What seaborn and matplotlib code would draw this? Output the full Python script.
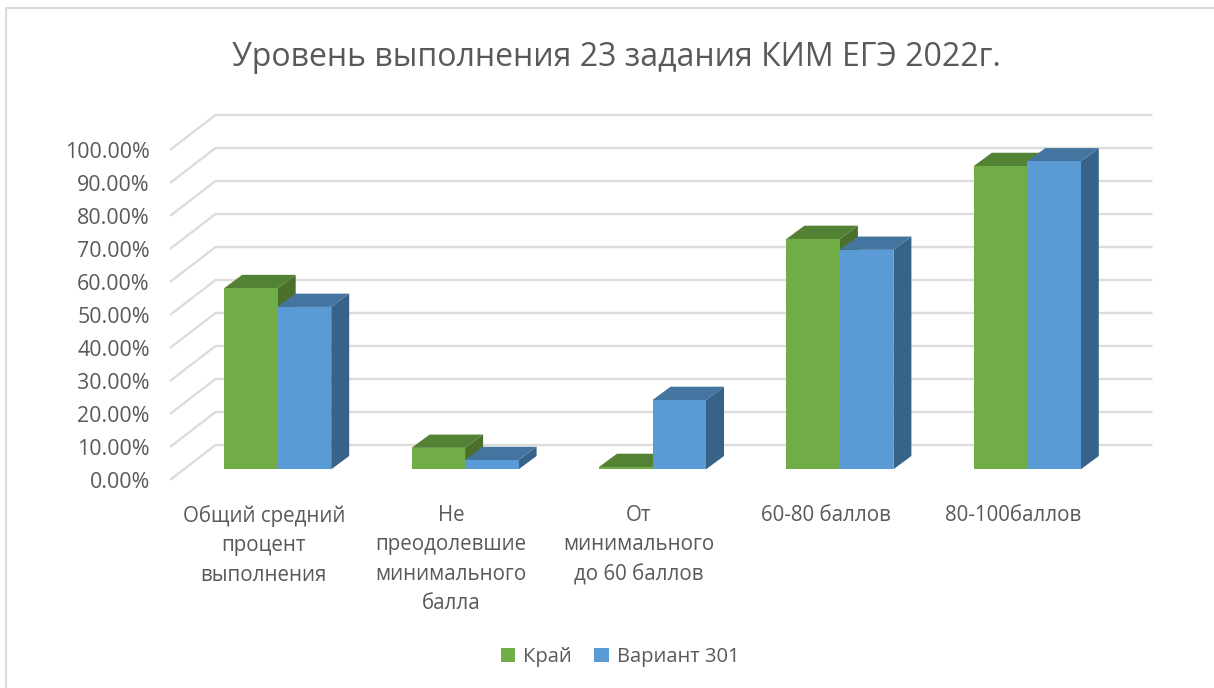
import pandas as pd
import matplotlib
matplotlib.use("Agg")
import matplotlib.pyplot as plt
from matplotlib.lines import Line2D
from matplotlib.patches import Polygon, Rectangle
import seaborn as sns

# values (percent)
categories = ["Общий средний\nпроцент\nвыполнения", "Не\nпреодолевшие\nминимального\nбалла",
              "От\nминимального\nдо 60 баллов", "60-80 баллов", "80-100баллов"]
kray = [54.9, 6.5, 0.7, 69.8, 91.9]
variant = [49.2, 2.8, 21.0, 66.5, 93.3]
ticks = [0, 10, 20, 30, 40, 50, 60, 70, 80, 90, 100]

df = pd.DataFrame({
    "cat": categories * 2,
    "val": kray + variant,
    "series": ["Край"] * 5 + ["Вариант 301"] * 5,
})

sns.set_theme(style="white")
plt.rcParams["font.family"] = ["Open Sans", "DejaVu Sans"]

W, H = 1214, 688
text_col = "#595959"
front = {"Край": "#70AD47", "Вариант 301": "#5B9BD5"}
top_col = ["#548235", "#4474A0"]
side_col = ["#4A702C", "#386389"]

# pixel scale of the chart
px_x = 187.4   # px per category
px_y = 3.3     # px per percent


def box(left, top, width, height):
    return [left / W, 1 - (top + height) / H, width / W, height / H]


fig = plt.figure(figsize=(W / 100, H / 100), dpi=100)
# only the top and left edges of the chart frame are in the crop
fig.add_artist(Line2D([6 / W, 6 / W, 1], [0, 1 - 8 / H, 1 - 8 / H], transform=fig.transFigure,
                      color="#dcdcdc", lw=1.6))

# front plane of the walls: carries the axis labels and the grid
ax_wall = fig.add_axes(box(170, 150, 5 * px_x, 330))
ax_wall.set_xlim(-0.5, 4.5)
ax_wall.set_ylim(0, 100)
ax_wall.set_xticks(range(5))
ax_wall.set_xticklabels(categories, fontsize=14.8, color=text_col, linespacing=1.53, va="top")
ax_wall.set_yticks(ticks)
ax_wall.set_yticklabels([f"{t:.2f}%" for t in ticks], fontsize=15.4, color=text_col)
ax_wall.tick_params(axis="both", length=0)
ax_wall.tick_params(axis="y", pad=14.5)
ax_wall.tick_params(axis="x", pad=18)
sns.despine(ax=ax_wall, left=True, bottom=True)

wall_dx = 45.5 / px_x
wall_dy = 35 / px_y
for t in ticks:
    ax_wall.plot([-0.5, -0.5 + wall_dx, 4.5 + wall_dx], [t, t + wall_dy, t + wall_dy],
                 color="#dcdcdc", lw=1.7, clip_on=False, zorder=1, solid_capstyle="butt")

# plane of the bar fronts, shifted into the depth of the chart
ax = fig.add_axes(box(184, 139.3, 5 * px_x, 330))
ax.patch.set_alpha(0)
sns.barplot(data=df, x="cat", y="val", hue="series", palette=front, width=0.571, gap=0,
            saturation=1, legend=False, ax=ax, zorder=5, edgecolor="none")
ax.set_xlim(-0.5, 4.5)
ax.set_ylim(0, 100)
ax.axis("off")

depth_x = 18 / px_x
depth_y = 13.3 / px_y
for i, bars in enumerate(ax.containers):
    for b in bars:
        x0, w, h = b.get_x(), b.get_width(), b.get_height()
        x1 = x0 + w
        ax.add_patch(Polygon([(x1, 0), (x1 + depth_x, depth_y), (x1 + depth_x, h + depth_y), (x1, h)],
                             fc=side_col[i], ec="none", zorder=2 + i, clip_on=False))
        ax.add_patch(Polygon([(x0, h), (x0 + depth_x, h + depth_y), (x1 + depth_x, h + depth_y), (x1, h)],
                             fc=top_col[i], ec="none", zorder=2 + i, clip_on=False))

fig.text(616 / W, 1 - 58 / H, "Уровень выполнения 23 задания КИМ ЕГЭ 2022г.", ha="center", va="center",
         fontsize=23, color=text_col)

handles = [Rectangle((0, 0), 1, 1, fc=front[k], ec="none") for k in front]
fig.legend(handles, list(front), loc="center", bbox_to_anchor=(620 / W, 1 - 657 / H), ncol=2, frameon=False,
           fontsize=14.5, labelcolor=text_col, handlelength=0.72, handleheight=0.72, handletextpad=0.4,
           columnspacing=1.1)

fig.savefig("out.png", dpi=100)
